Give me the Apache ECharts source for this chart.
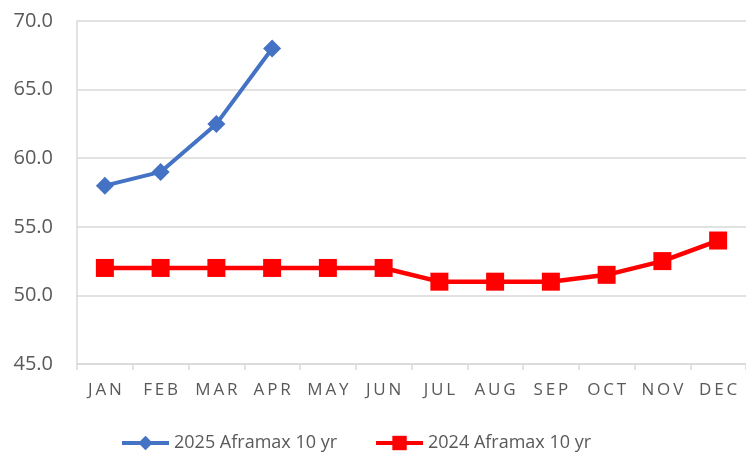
<!DOCTYPE html>
<html><head><meta charset="utf-8">
<script src="https://cdn.jsdelivr.net/npm/echarts@6/dist/echarts.min.js"></script>
<style>html,body{margin:0;padding:0;background:#fff}#c{width:746px;height:454px}</style>
</head><body><div id="c"></div>
<script>
const categories = ['JAN','FEB','MAR','APR','MAY','JUN','JUL','AUG','SEP','OCT','NOV','DEC'];
const series2025 = [58, 59, 62.5, 68];
const series2024 = [52, 52, 52, 52, 52, 52, 51, 51, 51, 51.5, 52.5, 54];
const name2025 = '2025 Aframax 10 yr';
const name2024 = '2024 Aframax 10 yr';
const yMin = 45, yMax = 70, yStep = 5;

const spaced = s => s.split('').join('\u2009');
const chart = echarts.init(document.getElementById('c'));
const font = '"Open Sans", sans-serif';
chart.setOption({
  animation: false,
  textStyle: { fontFamily: font },
  grid: { left: 77, top: 21, width: 675, height: 343, containLabel: false },
  legend: {
    left: 120, top: 434, padding: 0, itemWidth: 47, itemHeight: 18, itemGap: 37,
    lineStyle: { width: 4 },
    textStyle: { fontSize: 18, color: '#595959', fontFamily: font },
    data: [name2025, name2024]
  },
  xAxis: {
    type: 'category', data: categories, boundaryGap: true,
    axisLine: { show: true, lineStyle: { color: '#d9d9d9', width: 1.5 } },
    axisTick: { show: true, length: 6, lineStyle: { color: '#d9d9d9', width: 1.5 } },
    axisLabel: { color: '#595959', fontSize: 17, margin: 18, fontFamily: font, formatter: v => spaced(v) }
  },
  yAxis: {
    type: 'value', min: yMin, max: yMax, interval: yStep,
    axisLine: { show: true, lineStyle: { color: '#d9d9d9', width: 1.5 } },
    axisTick: { show: false },
    splitLine: { lineStyle: { color: '#d9d9d9', width: 1.5 } },
    axisLabel: { color: '#595959', fontSize: 20, margin: 24, fontFamily: font, formatter: v => v.toFixed(1) }
  },
  series: [
    { name: name2025, type: 'line', data: series2025, symbol: 'diamond', symbolSize: 18,
      lineStyle: { color: '#4472C4', width: 4 }, itemStyle: { color: '#4472C4' } },
    { name: name2024, type: 'line', data: series2024, symbol: 'rect', symbolSize: 18,
      lineStyle: { color: '#FF0000', width: 4.5 }, itemStyle: { color: '#FF0000' } }
  ]
});
</script></body></html>
